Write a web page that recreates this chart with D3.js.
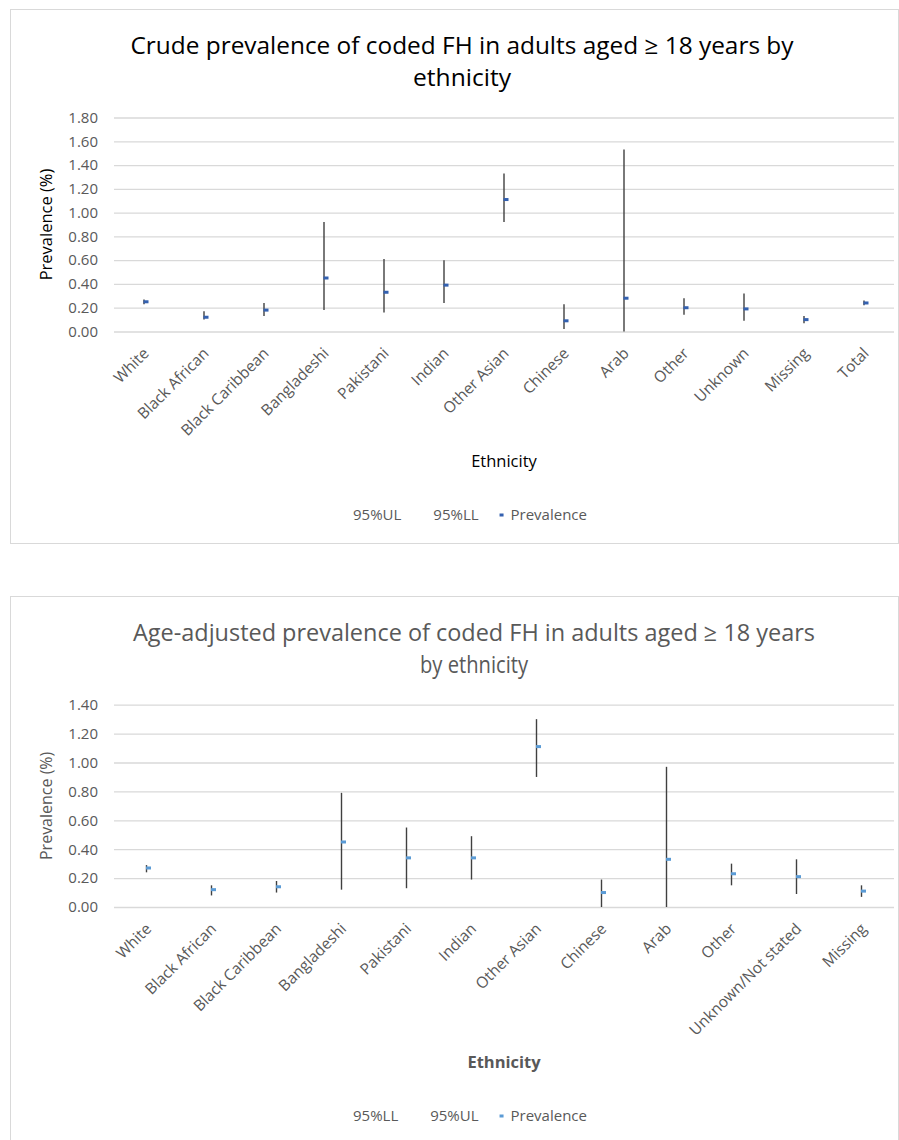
<!DOCTYPE html>
<html>
<head>
<meta charset="utf-8">
<script src="https://cdn.jsdelivr.net/npm/d3@7"></script>
<style>
  body { margin: 0; background: #fff; }
  svg { display: block; }
</style>
</head>
<body>
<div id="chart"></div>
<script>
// Crude prevalence (top panel)
const crudeCategories = ['White', 'Black African', 'Black Caribbean', 'Bangladeshi', 'Pakistani', 'Indian',
  'Other Asian', 'Chinese', 'Arab', 'Other', 'Unknown', 'Missing', 'Total'];
const crudePrevalence = [0.25, 0.12, 0.18, 0.45, 0.33, 0.39, 1.11, 0.09, 0.28, 0.20, 0.19, 0.10, 0.24];
const crudeLL = [0.23, 0.10, 0.13, 0.18, 0.16, 0.24, 0.92, 0.02, 0.00, 0.14, 0.09, 0.07, 0.22];
const crudeUL = [0.27, 0.17, 0.24, 0.92, 0.61, 0.60, 1.33, 0.23, 1.53, 0.28, 0.32, 0.13, 0.26];
const crudeTicks = [0, 0.2, 0.4, 0.6, 0.8, 1.0, 1.2, 1.4, 1.6, 1.8];

// Age-adjusted prevalence (bottom panel)
const adjCategories = ['White', 'Black African', 'Black Caribbean', 'Bangladeshi', 'Pakistani', 'Indian',
  'Other Asian', 'Chinese', 'Arab', 'Other', 'Unknown/Not stated', 'Missing'];
const adjPrevalence = [0.27, 0.12, 0.14, 0.45, 0.34, 0.34, 1.11, 0.10, 0.33, 0.23, 0.21, 0.11];
const adjLL = [0.24, 0.08, 0.10, 0.12, 0.13, 0.19, 0.90, 0.00, 0.00, 0.15, 0.09, 0.07];
const adjUL = [0.29, 0.15, 0.18, 0.79, 0.55, 0.49, 1.30, 0.19, 0.97, 0.30, 0.33, 0.15];
const adjTicks = [0, 0.2, 0.4, 0.6, 0.8, 1.0, 1.2, 1.4];

const fontFamily = "'Open Sans', 'DejaVu Sans', sans-serif";
const titleFont = "'Liberation Sans Narrow', 'Open Sans', sans-serif";
const gray = '#595959';

const svg = d3.select('#chart')
  .append('svg')
  .attr('width', 899)
  .attr('height', 1140);

/**
 * Draws one Excel-style high-low chart panel
 */
function drawPanel(opts) {
  const g = svg.append('g');

  // chart area border
  g.append('rect')
    .attr('x', opts.box[0] + 0.5)
    .attr('y', opts.box[1] + 0.5)
    .attr('width', opts.box[2])
    .attr('height', opts.box[3])
    .attr('fill', '#fff')
    .attr('stroke', '#d9d9d9')
    .attr('stroke-width', 1);

  // title (two lines)
  opts.title.forEach((line, i) => {
    g.append('text')
      .text(line.text)
      .attr('x', opts.titleX)
      .attr('y', opts.titleY + i * 32)
      .attr('text-anchor', 'middle')
      .attr('textLength', line.width)
      .attr('lengthAdjust', 'spacingAndGlyphs')
      .style('font-family', titleFont)
      .style('font-size', '24px')
      .style('fill', opts.titleColor);
  });

  const x = d3.scaleBand()
    .domain(opts.categories)
    .range([114, 894])
    .padding(0);

  const y = d3.scaleLinear()
    .domain([0, d3.max(opts.ticks)])
    .range([opts.bottom, opts.top]);

  // gridlines + tick labels
  const yAxis = g.append('g')
    .attr('transform', 'translate(114,0)')
    .call(d3.axisLeft(y)
      .tickValues(opts.ticks)
      .tickFormat(d3.format('.2f'))
      .tickSize(-780)
      .tickPadding(16));
  yAxis.select('.domain').remove();
  yAxis.selectAll('line')
    .attr('stroke', '#d9d9d9')
    .attr('stroke-width', 1.3);
  yAxis.selectAll('text')
    .style('font-family', fontFamily)
    .style('font-size', '15px')
    .style('fill', gray);

  // category labels, rotated
  g.append('g')
    .selectAll('text')
    .data(opts.categories)
    .enter()
    .append('text')
    .text(d => d)
    .attr('text-anchor', 'end')
    .attr('dy', '0.35em')
    .attr('transform', d => `translate(${x(d) + x.bandwidth() / 2 + 2},${opts.bottom + 19}) rotate(-45)`)
    .style('font-family', fontFamily)
    .style('font-size', '15.5px')
    .style('fill', gray);

  // axis titles
  g.append('text')
    .text('Prevalence (%)')
    .attr('text-anchor', 'middle')
    .attr('transform', `translate(52,${(opts.top + opts.bottom) / 2}) rotate(-90)`)
    .style('font-family', fontFamily)
    .style('font-size', opts.yTitleSize)
    .style('fill', opts.axisTitleColor);

  g.append('text')
    .text('Ethnicity')
    .attr('x', 504)
    .attr('y', opts.xTitleY)
    .attr('text-anchor', 'middle')
    .style('font-family', fontFamily)
    .style('font-size', '16.5px')
    .style('font-weight', opts.xTitleWeight)
    .style('fill', opts.axisTitleColor);

  const rows = opts.categories.map((c, i) => ({
    cat: c, prev: opts.prev[i], ll: opts.ll[i], ul: opts.ul[i]
  }));

  // high-low lines
  g.append('g')
    .selectAll('line')
    .data(rows)
    .enter()
    .append('line')
    .attr('x1', d => x(d.cat) + x.bandwidth() / 2)
    .attr('x2', d => x(d.cat) + x.bandwidth() / 2)
    .attr('y1', d => y(d.ll))
    .attr('y2', d => y(d.ul))
    .attr('stroke', '#404040')
    .attr('stroke-width', 1.4);

  // prevalence dash markers
  g.append('g')
    .selectAll('rect')
    .data(rows)
    .enter()
    .append('rect')
    .attr('x', d => x(d.cat) + x.bandwidth() / 2 - 0.5)
    .attr('y', d => y(d.prev) - 1.5)
    .attr('width', 5)
    .attr('height', 3)
    .attr('fill', opts.markerColor);

  // legend
  let lx = 333;
  opts.legend.forEach(item => {
    if (item.marker) {
      g.append('rect')
        .attr('x', lx + 9)
        .attr('y', opts.legendY - 6.5)
        .attr('width', 4)
        .attr('height', 3)
        .attr('fill', opts.markerColor);
    }
    const t = g.append('text')
      .text(item.label)
      .attr('x', lx + 20)
      .attr('y', opts.legendY)
      .style('font-family', fontFamily)
      .style('font-size', '15px')
      .style('fill', gray);
    lx += 20 + t.node().getComputedTextLength() + 12;
  });
}

drawPanel({
  box: [10, 9, 888, 534],
  title: [
    { text: 'Crude prevalence of coded FH in adults aged ≥ 18 years by', width: 663 },
    { text: 'ethnicity', width: 98 }
  ],
  titleX: 462,
  titleY: 54,
  titleColor: '#000',
  categories: crudeCategories,
  prev: crudePrevalence,
  ll: crudeLL,
  ul: crudeUL,
  ticks: crudeTicks,
  top: 117.5,
  bottom: 331.5,
  yTitleSize: '16.5px',
  axisTitleColor: '#000',
  xTitleY: 467,
  xTitleWeight: 'normal',
  markerColor: '#3461b0',
  legendY: 520,
  legend: [{ label: '95%UL' }, { label: '95%LL' }, { label: 'Prevalence', marker: true }]
});

drawPanel({
  box: [10, 596, 888, 560],
  title: [
    { text: 'Age-adjusted prevalence of coded FH in adults aged ≥ 18 years', width: 682 },
    { text: 'by ethnicity', width: 108 }
  ],
  titleX: 474,
  titleY: 641,
  titleColor: gray,
  categories: adjCategories,
  prev: adjPrevalence,
  ll: adjLL,
  ul: adjUL,
  ticks: adjTicks,
  top: 704.7,
  bottom: 907,
  yTitleSize: '16px',
  axisTitleColor: gray,
  xTitleY: 1068,
  xTitleWeight: 'bold',
  markerColor: '#5b9bd5',
  legendY: 1121,
  legend: [{ label: '95%LL' }, { label: '95%UL' }, { label: 'Prevalence', marker: true }]
});
</script>
</body>
</html>
